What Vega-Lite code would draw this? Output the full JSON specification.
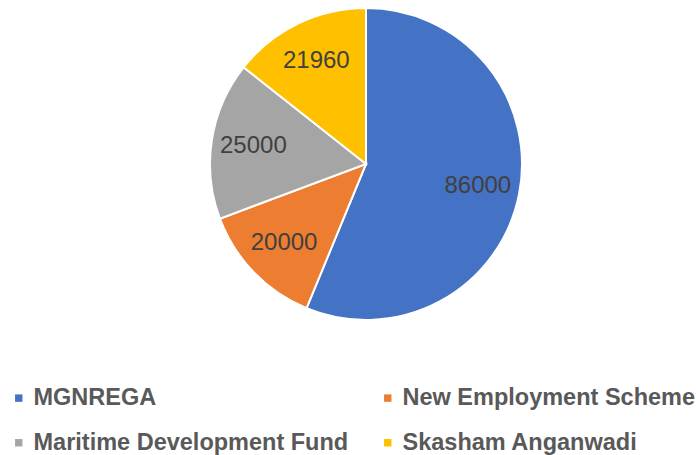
{
  "$schema": "https://vega.github.io/schema/vega-lite/v6.json",
  "width": 312,
  "height": 312,
  "autosize": "none",
  "padding": {"left": 210, "top": 8, "right": 174, "bottom": 135},
  "background": "white",
  "data": {
    "values": [
      {"scheme": "MGNREGA", "amount": 86000, "idx": 1},
      {"scheme": "New Employment Scheme", "amount": 20000, "idx": 2},
      {"scheme": "Maritime Development Fund", "amount": 25000, "idx": 3},
      {"scheme": "Skasham Anganwadi", "amount": 21960, "idx": 4}
    ]
  },
  "encoding": {
    "theta": {"field": "amount", "type": "quantitative", "stack": true},
    "order": {"field": "idx", "type": "quantitative"}
  },
  "layer": [
    {
      "mark": {"type": "arc", "stroke": "white", "strokeWidth": 2, "outerRadius": 156},
      "encoding": {
        "color": {
          "field": "scheme",
          "type": "nominal",
          "scale": {
            "domain": ["MGNREGA", "New Employment Scheme", "Maritime Development Fund", "Skasham Anganwadi"],
            "range": ["#4472C4", "#ED7D31", "#A5A5A5", "#FFC000"]
          },
          "legend": {
            "title": null,
            "orient": "none",
            "direction": "horizontal",
            "legendX": -203,
            "legendY": 378,
            "columns": 2,
            "columnPadding": 27,
            "rowPadding": 20,
            "symbolType": "square",
            "symbolSize": 55,
            "symbolStrokeWidth": 0,
            "labelFont": "Liberation Sans",
            "labelFontWeight": "bold",
            "labelFontSize": 23.5,
            "labelColor": "#595959",
            "labelOffset": 3,
            "labelLimit": 400
          }
        }
      }
    },
    {
      "mark": {"type": "text", "radius": 114, "font": "Liberation Sans", "fontSize": 24, "color": "#404040", "align": "center", "baseline": "middle"},
      "encoding": {
        "text": {"field": "amount", "type": "quantitative", "format": "d"}
      }
    }
  ]
}
